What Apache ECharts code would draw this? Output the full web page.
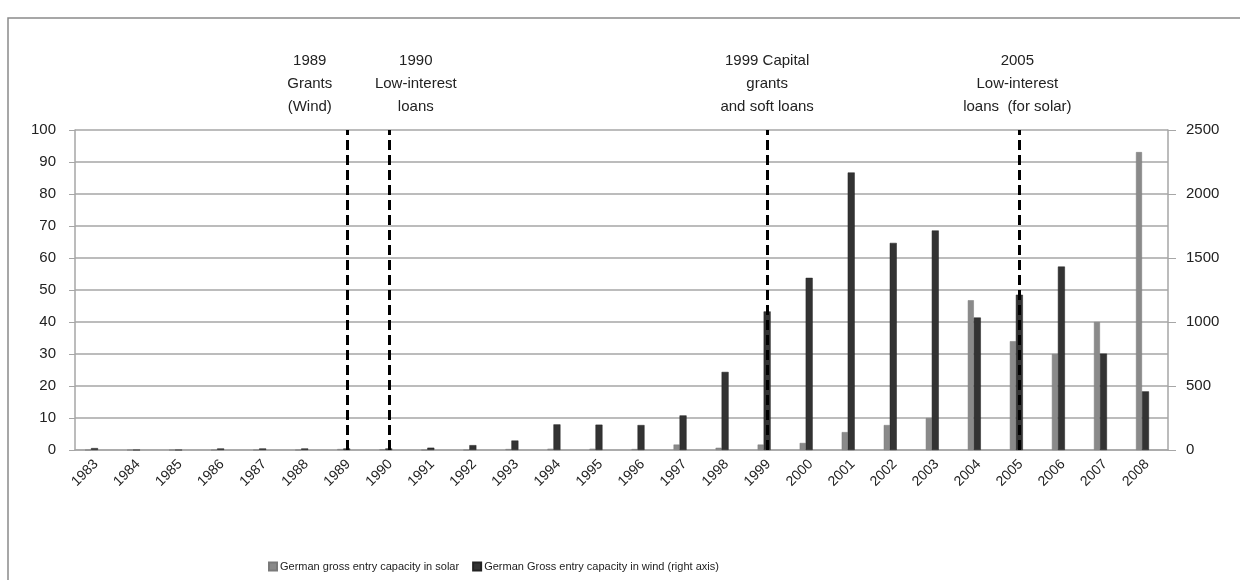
<!DOCTYPE html>
<html>
<head>
<meta charset="utf-8">
<script src="https://cdn.jsdelivr.net/npm/echarts@6/dist/echarts.min.js"></script>
<style>
  html, body { margin: 0; padding: 0; background: #fff; }
  #chart { width: 1240px; height: 580px; }
</style>
</head>
<body>
<div id="chart"></div>
<script>
var years = ['1983','1984','1985','1986','1987','1988','1989','1990','1991','1992','1993','1994','1995',
             '1996','1997','1998','1999','2000','2001','2002','2003','2004','2005','2006','2007','2008'];
// left axis
var solar = [0, 0, 0, 0, 0, 0, 0.3, 0.2, 0, 0, 0.3, 0.4, 0.4, 0.3, 1.7, 0.7, 1.7, 2.2, 5.6, 7.8, 10, 46.8, 34, 30, 40, 93.1];
// right axis
var wind = [15, 0, 0, 12, 12, 12, 12, 12, 18, 38, 74, 200, 198, 195, 270, 610, 1083, 1345, 2168, 1618, 1715, 1035, 1213, 1433, 753, 458];
var policies = [
  { year: '1989', text: '1989\nGrants\n(Wind)', shift: -37 },
  { year: '1990', text: '1990\nLow-interest\nloans', shift: 27 },
  { year: '1999', text: '1999 Capital\ngrants\nand soft loans', shift: 0 },
  { year: '2005', text: '2005\nLow-interest\nloans  (for solar)', shift: -2 }
];

var font = 'Liberation Sans';
var myChart = echarts.init(document.getElementById('chart'));

var lineData = policies.map(function (p) {
  var pad = p.shift < 0 ? [0, -2 * p.shift, 0, 0] : [0, 0, 0, 2 * p.shift];
  return {
    xAxis: p.year,
    label: { formatter: p.text, padding: pad }
  };
});

var option = {
  animation: false,
  textStyle: { fontFamily: font },
  graphic: [{
    type: 'rect',
    shape: { x: 8, y: 18, width: 1260, height: 600 },
    style: { fill: 'none', stroke: '#8a8a8a', lineWidth: 1.5 }
  }],
  legend: {
    left: 263, top: 556,
    itemWidth: 8, itemHeight: 8, itemGap: 13,
    icon: 'rect',
    textStyle: { fontSize: 11, color: '#222', fontFamily: font, padding: [0, 0, 0, -2] },
    data: ['German gross entry capacity in solar', 'German Gross entry capacity in wind (right axis)']
  },
  grid: { left: 75, right: 72, top: 130, bottom: 130 },
  xAxis: {
    type: 'category',
    data: years,
    axisLine: { lineStyle: { color: '#a6a6a6', width: 1.5 } },
    axisTick: { interval: 4, length: 6, lineStyle: { color: '#a6a6a6' } },
    axisLabel: { interval: 0, rotate: 45, fontSize: 14, color: '#222', margin: 12 }
  },
  yAxis: [{
    type: 'value', min: 0, max: 100, interval: 10,
    axisLine: { show: true, lineStyle: { color: '#a6a6a6', width: 1.5 } },
    axisTick: { show: true, length: 6, lineStyle: { color: '#a6a6a6' } },
    axisLabel: { fontSize: 15, color: '#222', margin: 19 },
    splitLine: { lineStyle: { color: '#a6a6a6', width: 1.5 } }
  }, {
    type: 'value', min: 0, max: 2500, interval: 500,
    axisLine: { show: true, lineStyle: { color: '#a6a6a6', width: 1.5 } },
    axisTick: { show: true, length: 8, lineStyle: { color: '#a6a6a6' } },
    axisLabel: { fontSize: 15, color: '#222', margin: 18, formatter: function (v) { return String(v); } },
    splitLine: { show: false }
  }],
  series: [{
    name: 'German gross entry capacity in solar',
    type: 'bar',
    yAxisIndex: 0,
    barWidth: 6,
    barGap: '0%',
    itemStyle: { color: '#8a8a8a', borderColor: '#7a7a7a', borderWidth: 0.5 },
    data: solar
  }, {
    name: 'German Gross entry capacity in wind (right axis)',
    type: 'bar',
    yAxisIndex: 1,
    barWidth: 7,
    barGap: '0%',
    itemStyle: { color: '#333333', borderColor: '#222', borderWidth: 0.5 },
    data: wind,
    markLine: {
      silent: true,
      symbol: 'none',
      lineStyle: { color: '#000', type: [10, 5], width: 3 },
      label: {
        position: 'end', distance: 12,
        fontSize: 15, lineHeight: 23, color: '#222', fontFamily: font, align: 'center'
      },
      data: lineData
    }
  }, {
    // empty spacer, keeps the bar pair slightly left of the category centre
    name: 'spacer',
    type: 'bar',
    yAxisIndex: 1,
    barWidth: 9,
    barGap: '0%',
    data: []
  }]
};

myChart.setOption(option);
</script>
</body>
</html>
